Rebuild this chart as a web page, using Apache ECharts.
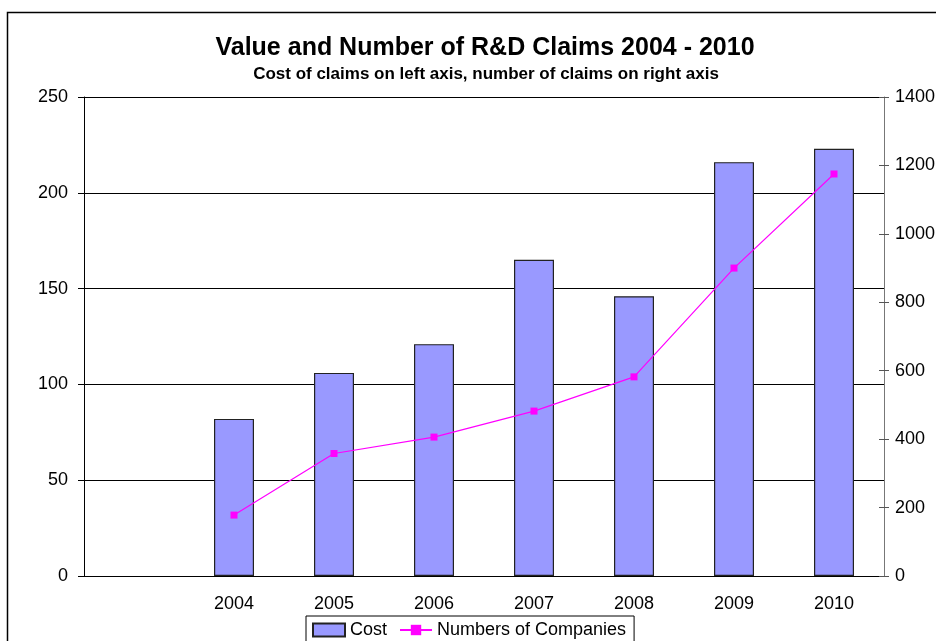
<!DOCTYPE html>
<html>
<head>
<meta charset="utf-8">
<script src="https://cdn.jsdelivr.net/npm/echarts@6/dist/echarts.min.js"></script>
<style>html,body{margin:0;padding:0;background:#fff}#c{width:936px;height:641px}</style>
</head>
<body>
<div id="c"></div>
<script>
var categories = ['', '2004', '2005', '2006', '2007', '2008', '2009', '2010'];
var costValues = [null, 82, 106, 121, 165, 146, 216, 223];
var companyValues = [null, 178, 358, 406, 482, 582, 900, 1175];
var titleText = 'Value and Number of R&D Claims 2004 - 2010';
var subtitleText = 'Cost of claims on left axis, number of claims on right axis';

var chart = echarts.init(document.getElementById('c'));
var font = 'Liberation Sans, Arial, sans-serif';
function plain(v) { return String(v); }
chart.setOption({
  animation: false,
  graphic: [{
    type: 'rect', left: 5, top: 10,
    shape: {x: 0, y: 0, width: 1000, height: 700},
    style: {fill: 'none', stroke: '#000', lineWidth: 1.5}, silent: true, z: 0
  }],
  title: [
    {text: titleText, left: 480, top: 31, textAlign: 'center',
     textStyle: {fontFamily: font, fontSize: 25, fontWeight: 'bold', color: '#000'}},
    {text: subtitleText, left: 481, top: 61, textAlign: 'center',
     textStyle: {fontFamily: font, fontSize: 17, fontWeight: 'bold', color: '#000'}}
  ],
  legend: {
    bottom: -6, left: 306,
    padding: [5, 8, 8, 6],
    borderColor: '#000', borderWidth: 1,
    itemGap: 12, itemWidth: 32, itemHeight: 13,
    textStyle: {fontFamily: font, fontSize: 18, color: '#000'},
    data: [
      {name: 'Cost', icon: 'rect'},
      {name: 'Numbers of Companies'}
    ]
  },
  grid: {left: 84, right: 52, top: 97, bottom: 65, outerBoundsMode: 'none', containLabel: false},
  xAxis: {
    type: 'category', data: categories, boundaryGap: true,
    axisLine: {lineStyle: {color: '#000', width: 1}},
    axisTick: {length: 6, lineStyle: {color: '#000'}},
    axisLabel: {fontFamily: font, fontSize: 18, color: '#000', margin: 19}
  },
  yAxis: [
    {type: 'value', min: 0, max: 250, interval: 50, position: 'left',
     axisLine: {show: true, lineStyle: {color: '#000'}},
     axisTick: {show: true, length: 6, lineStyle: {color: '#000'}},
     axisLabel: {fontFamily: font, fontSize: 18, color: '#000', margin: 16, formatter: plain},
     splitLine: {show: true, lineStyle: {color: '#000', width: 1}}},
    {type: 'value', min: 0, max: 1400, interval: 200, position: 'right',
     axisLine: {show: true, lineStyle: {color: '#777'}},
     axisTick: {show: true, length: 5, lineStyle: {color: '#555'}},
     axisLabel: {fontFamily: font, fontSize: 18, color: '#000', margin: 11, formatter: plain},
     splitLine: {show: false}},
    {type: 'value', min: 0, max: 1400, interval: 200, position: 'right',
     axisLine: {show: false},
     axisTick: {show: true, inside: true, length: 5, lineStyle: {color: '#555'}},
     axisLabel: {show: false},
     splitLine: {show: false}}
  ],
  series: [
    {name: 'Cost', type: 'bar', yAxisIndex: 0, data: costValues, barWidth: '40%',
     itemStyle: {color: '#9999FF', borderColor: '#222', borderWidth: 1.2}, z: 2},
    {name: 'Numbers of Companies', type: 'line', yAxisIndex: 1, data: companyValues,
     symbol: 'rect', symbolSize: 7, connectNulls: false,
     lineStyle: {color: '#FF00FF', width: 1.2},
     itemStyle: {color: '#FF00FF'}, z: 3}
  ]
});
</script>
</body>
</html>
